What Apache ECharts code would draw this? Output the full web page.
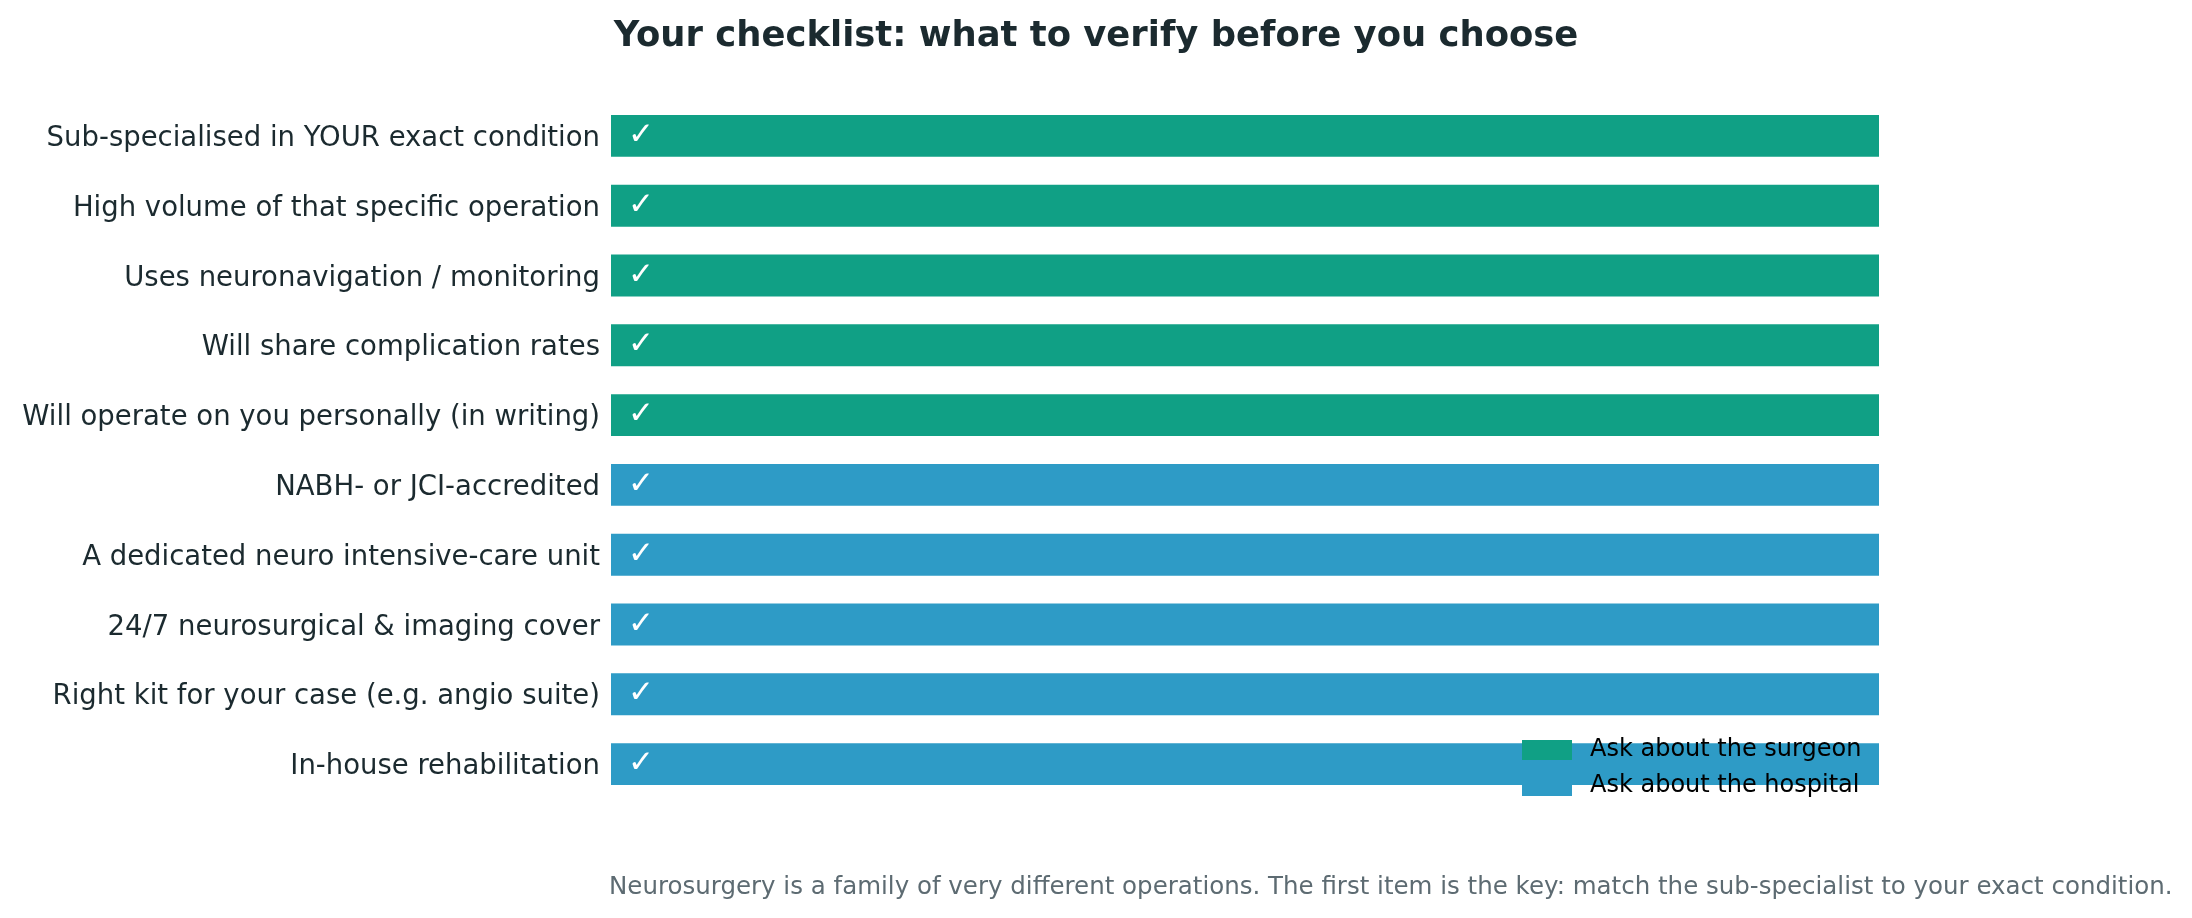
<!DOCTYPE html>
<html>
<head>
<meta charset="utf-8">
<script src="https://cdn.jsdelivr.net/npm/echarts@6/dist/echarts.min.js"></script>
<style>
  html, body { margin: 0; padding: 0; background: #fff; }
  #main { width: 2192px; height: 918px; }
</style>
</head>
<body>
<div id="main"></div>
<script>
// checklist items, top to bottom
var items = [
  'Sub-specialised in YOUR exact condition',
  'High volume of that specific operation',
  'Uses neuronavigation / monitoring',
  'Will share complication rates',
  'Will operate on you personally (in writing)',
  'NABH- or JCI-accredited',
  'A dedicated neuro intensive-care unit',
  '24/7 neurosurgical & imaging cover',
  'Right kit for your case (e.g. angio suite)',
  'In-house rehabilitation'
];
// 1 = item on the list, null = belongs to the other group
var surgeon = [1, 1, 1, 1, 1, null, null, null, null, null];
var hospital = [null, null, null, null, null, 1, 1, 1, 1, 1];

var FONT = 'DejaVu Sans';
var chart = echarts.init(document.getElementById('main'));

function checkLabel() {
  return {
    show: true,
    position: 'insideLeft',
    distance: 17,
    formatter: '\u2713',
    color: '#ffffff',
    fontFamily: FONT,
    fontSize: 31,
    fontWeight: 'bold'
  };
}

chart.setOption({
  animation: false,
  title: [{
    text: 'Your checklist: what to verify before you choose',
    left: 'center',
    top: 14,
    textStyle: {
      fontFamily: FONT,
      fontSize: 35.4,
      fontWeight: 'bold',
      color: '#1b2a2f'
    }
  }, {
    text: 'Neurosurgery is a family of very different operations. The first item is the key: match the sub-specialist to your exact condition.',
    left: 604,
    top: 870,
    textStyle: {
      fontFamily: FONT,
      fontSize: 24.5,
      fontWeight: 'normal',
      color: '#5d6b72'
    }
  }],
  legend: {
    orient: 'vertical',
    left: 1517,
    top: 733,
    itemWidth: 50,
    itemHeight: 20,
    itemGap: 12,
    selectedMode: false,
    icon: 'rect',
    textStyle: {
      fontFamily: FONT,
      fontSize: 24,
      color: '#000000',
      padding: [0, 0, 0, 13]
    },
    data: ['Ask about the surgeon', 'Ask about the hospital']
  },
  grid: {
    left: 611,
    right: 313,
    top: 101,
    bottom: 119
  },
  xAxis: {
    type: 'value',
    min: 0,
    max: 1,
    show: false
  },
  yAxis: {
    type: 'category',
    inverse: true,
    data: items,
    axisLine: {show: false},
    axisTick: {show: false},
    splitLine: {show: false},
    axisLabel: {
      margin: 11,
      formatter: function (v) { return '{t|' + v + '}'; },
      rich: {
        t: {
          padding: [6, 0, 0, 0],
          fontFamily: FONT,
          fontSize: 27.5,
          color: '#1b2a2f'
        }
      },
      fontFamily: FONT,
      fontSize: 27.5,
      color: '#1b2a2f'
    }
  },
  series: [
    {
      name: 'Ask about the surgeon',
      type: 'bar',
      stack: 'check',
      barWidth: '60%',
      itemStyle: {color: '#10a085'},
      label: checkLabel(),
      data: surgeon
    },
    {
      name: 'Ask about the hospital',
      type: 'bar',
      stack: 'check',
      barWidth: '60%',
      itemStyle: {color: '#2e9bc6'},
      label: checkLabel(),
      data: hospital
    }
  ]
});
</script>
</body>
</html>
